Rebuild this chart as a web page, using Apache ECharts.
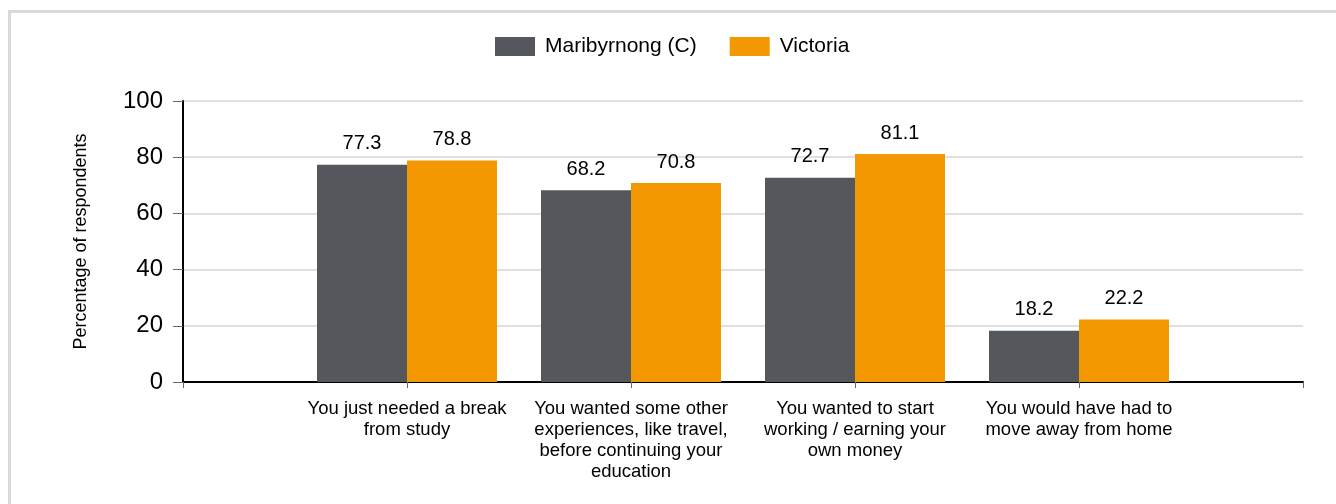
<!DOCTYPE html>
<html>
<head>
<meta charset="utf-8">
<script src="https://cdn.jsdelivr.net/npm/echarts@6/dist/echarts.min.js"></script>
<style>
  html, body { margin: 0; padding: 0; background: #fff; }
  #chart { width: 1336px; height: 504px; }
</style>
</head>
<body>
<div id="chart"></div>
<script>
// empty first/last entries give the padding either side of the groups
var categories = [
    '',
    'You just needed a break\nfrom study',
    'You wanted some other\nexperiences, like travel,\nbefore continuing your\neducation',
    'You wanted to start\nworking / earning your\nown money',
    'You would have had to\nmove away from home',
    ''
];
var maribyrnong = ['-', 77.3, 68.2, 72.7, 18.2, '-'];
var victoria = ['-', 78.8, 70.8, 81.1, 22.2, '-'];
var yTicks = [0, 20, 40, 60, 80, 100];

var font = 'Arial, "Liberation Sans", sans-serif';

var barLabel = {
    show: true,
    position: 'top',
    distance: 11,
    color: '#000',
    fontSize: 20,
    fontFamily: font,
    formatter: function (p) { return p.value.toFixed(1); }
};

var option = {
    animation: false,
    backgroundColor: '#fff',
    graphic: [{
        type: 'rect',
        shape: { x: 9.5, y: 11.5, width: 1400, height: 600 },
        style: { fill: 'none', stroke: '#d9d9d9', lineWidth: 3 },
        silent: true
    }],
    legend: {
        top: 31,
        left: 490,
        icon: 'rect',
        itemWidth: 40,
        itemHeight: 19,
        itemGap: 33,
        textStyle: { fontSize: 21, fontFamily: font, color: '#000', padding: [0, 0, 0, 5] },
        data: ['Maribyrnong (C)', 'Victoria']
    },
    grid: {
        left: 183,
        right: 33,
        top: 101,
        bottom: 122
    },
    xAxis: {
        type: 'category',
        boundaryGap: false,
        data: categories,
        axisLine: { lineStyle: { color: '#000', width: 2 } },
        axisTick: { show: true, length: 6, lineStyle: { color: '#666', width: 1 } },
        axisLabel: {
            interval: 0,
            margin: 16,
            color: '#000',
            fontSize: 18.5,
            lineHeight: 21,
            fontFamily: font
        }
    },
    yAxis: {
        type: 'value',
        min: yTicks[0],
        max: yTicks[yTicks.length - 1],
        interval: 20,
        name: 'Percentage of respondents',
        nameLocation: 'middle',
        nameGap: 93,
        nameTextStyle: { fontSize: 18, fontFamily: font, color: '#000' },
        axisLine: { show: true, lineStyle: { color: '#000', width: 2 } },
        axisTick: { show: true, length: 10, lineStyle: { color: '#666', width: 1 } },
        axisLabel: { margin: 20, color: '#000', fontSize: 24, fontFamily: font },
        splitLine: { lineStyle: { color: '#e0e0e0', width: 2 } }
    },
    series: [{
        name: 'Maribyrnong (C)',
        type: 'bar',
        barWidth: 90,
        barGap: '0%',
        itemStyle: { color: '#54575b' },
        label: barLabel,
        data: maribyrnong
    }, {
        name: 'Victoria',
        type: 'bar',
        barWidth: 90,
        itemStyle: { color: '#f39800' },
        label: barLabel,
        data: victoria
    }]
};

var myChart = echarts.init(document.getElementById('chart'));
myChart.setOption(option);
</script>
</body>
</html>
